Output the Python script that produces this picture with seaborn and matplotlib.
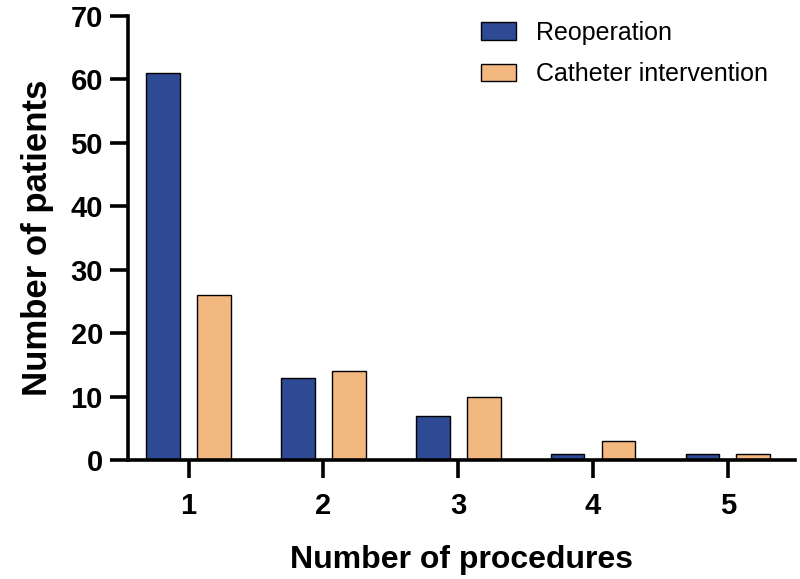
import matplotlib
matplotlib.use("Agg")
import matplotlib.pyplot as plt
import seaborn as sns
import pandas as pd

procedures = ["1", "2", "3", "4", "5"]
reoperation = [61, 13, 7, 1, 1]
catheter = [26, 14, 10, 3, 1]
series_names = ["Reoperation", "Catheter intervention"]
colors = ["#2E4A94", "#F2B880"]
y_ticks = [0, 10, 20, 30, 40, 50, 60, 70]

df = pd.DataFrame({
    "procedures": procedures * 2,
    "patients": reoperation + catheter,
    "series": [series_names[0]] * len(procedures) + [series_names[1]] * len(procedures),
})

sns.set_style("ticks")
plt.rcParams["font.family"] = ["Liberation Sans", "DejaVu Sans"]
plt.rcParams["text.color"] = "black"
plt.rcParams["axes.labelcolor"] = "black"

fig = plt.figure(figsize=(8, 5.79), dpi=100)
ax = fig.add_axes([0.16, 0.2055, 0.834, 0.767])

sns.barplot(data=df, x="procedures", y="patients", hue="series",
            palette=colors, width=0.756, gap=0.34, edgecolor="black",
            linewidth=1.0, ax=ax, saturation=1)

ax.set_xlim(-0.45, 4.5)
ax.set_ylim(0, 70)
ax.set_yticks(y_ticks)
for s in ["top", "right"]:
    ax.spines[s].set_visible(False)
for s in ["left", "bottom"]:
    ax.spines[s].set_linewidth(2.6)
    ax.spines[s].set_color("black")
ax.tick_params(axis="both", width=2.6, length=13, labelsize=21, colors="black")
ax.tick_params(axis="x", pad=10)
ax.tick_params(axis="y", pad=5)
for lab in ax.get_xticklabels() + ax.get_yticklabels():
    lab.set_fontweight("bold")
ax.set_xlabel("Number of procedures", fontsize=23, fontweight="bold", labelpad=18, color="black")
ax.set_ylabel("Number of patients", fontsize=25, fontweight="bold", labelpad=12, color="black")

leg = ax.legend(loc="upper left", bbox_to_anchor=(0.495, 1.04), frameon=False,
                fontsize=18, handlelength=1.4, handleheight=0.7,
                handletextpad=0.8, labelspacing=0.7)
for t in leg.get_texts():
    t.set_color("black")

fig.savefig("out.png", dpi=100)
